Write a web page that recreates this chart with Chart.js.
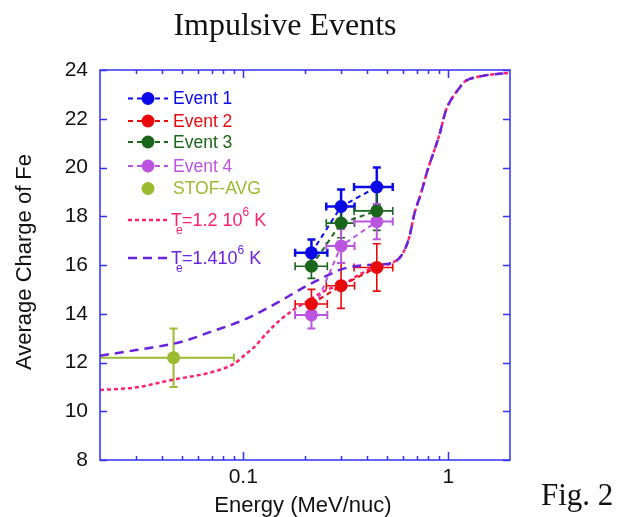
<!DOCTYPE html>
<html><head><meta charset="utf-8">
<script src="https://cdn.jsdelivr.net/npm/chart.js@4/dist/chart.umd.min.js"></script>
<style>html,body{margin:0;padding:0;background:#fff}canvas{display:block}</style>
</head><body>
<canvas id="c" width="624" height="517"></canvas>
<script>
// ---- data ----
const eventEnergy     = [0.215, 0.30, 0.448];
const eventEnergyLow  = [0.179, 0.254, 0.347];
const eventEnergyHigh = [0.257, 0.349, 0.536];

const event1Charge = [16.5, 18.4, 19.2];
const event1Err    = [0.55, 0.7, 0.8];
const event2Charge = [14.4, 15.15, 15.9];
const event2Err    = [0.6, 0.93, 0.97];
const event3Charge = [15.95, 17.72, 18.22];
const event3Err    = [0.5, 0.6, 0.8];
const event4Charge = [13.95, 16.78, 17.78];
const event4Err    = [0.55, 0.7, 0.72];

const stofEnergy     = [0.0457];
const stofEnergyLow  = [0.015];
const stofEnergyHigh = [0.090];
const stofCharge     = [12.2];
const stofErr        = [1.2];

const te12Energy = [0.02, 0.03, 0.0457, 0.07, 0.09, 0.104, 0.112, 0.13, 0.151, 0.175, 0.203, 0.254, 0.318, 0.37, 0.445, 0.527, 0.6, 0.646, 0.684, 0.736, 0.793, 0.839, 0.904, 0.975, 1.03, 1.13, 1.2, 1.415, 2.0];
const te12Charge = [10.87, 10.98, 11.3, 11.6, 11.95, 12.38, 12.6, 13.2, 13.74, 14.15, 14.49, 14.97, 15.28, 15.62, 15.93, 16.07, 16.48, 17.16, 18.12, 18.94, 19.9, 20.51, 21.33, 22.36, 22.77, 23.25, 23.52, 23.73, 23.89];
const te14Energy = [0.02, 0.03, 0.05, 0.07, 0.1, 0.15, 0.2, 0.25, 0.3, 0.4, 0.527, 0.6, 0.646, 0.684, 0.736, 0.793, 0.839, 0.904, 0.975, 1.03, 1.13, 1.2, 1.415, 2.0];
const te14Charge = [12.28, 12.51, 12.85, 13.27, 13.74, 14.5, 15.11, 15.52, 15.82, 16.0, 16.07, 16.48, 17.16, 18.12, 18.94, 19.9, 20.51, 21.33, 22.36, 22.77, 23.25, 23.52, 23.73, 23.89];

const xTickValues = [0.1, 1];
const xTickLabels = ['0.1', '1'];
const yTickStep = 2;

const seriesLabels = ['Event 1', 'Event 2', 'Event 3', 'Event 4', 'STOF-AVG'];
const titleText = 'Impulsive Events';
const figText = 'Fig. 2';
const xTitle = 'Energy (MeV/nuc)';
const yTitle = 'Average Charge of Fe';

// ---- styling ----
const C = {
  e1: '#0a0ae6', e2: '#e80a0a', e3: '#1a661a', e4: '#bb55e0', stof: '#9bbb30',
  te12: '#ff1f6e', te14: '#6a22dd', axis: '#3232f0'
};
const SANS = "'Liberation Sans', Arial, Helvetica, sans-serif";
const SERIF = "'Liberation Serif', 'Times New Roman', serif";

function pts(xs, ys){ return xs.map((v,i)=>({x:v, y:ys[i]})); }
function eventDs(label, ys, err, color, order, w){
  return { label, data: pts(eventEnergy, ys), errY: err, xLow: eventEnergyLow, xHigh: eventEnergyHigh,
    errWidth: w, showLine: true, borderColor: color, backgroundColor: color, borderWidth: 2,
    borderDash: [5,4], pointRadius: 6.5, pointBackgroundColor: color, pointBorderWidth: 0,
    pointHoverRadius: 6.5, order, legendKind: 'event' };
}

const datasets = [
  eventDs(seriesLabels[0], event1Charge, event1Err, C.e1, 1, 2.5),
  eventDs(seriesLabels[1], event2Charge, event2Err, C.e2, 2, 1.6),
  eventDs(seriesLabels[2], event3Charge, event3Err, C.e3, 3, 1.6),
  eventDs(seriesLabels[3], event4Charge, event4Err, C.e4, 4, 2),
  { label: seriesLabels[4], data: pts(stofEnergy, stofCharge), errY: stofErr, xLow: stofEnergyLow, xHigh: stofEnergyHigh,
    errWidth: 2, showLine: false, borderColor: C.stof, backgroundColor: C.stof, pointRadius: 6.5,
    pointBackgroundColor: C.stof, pointBorderWidth: 0, order: 0, legendKind: 'point' },
  { label: 'Te=1.2 10^6 K', data: pts(te12Energy, te12Charge), showLine: true, borderColor: C.te12,
    borderWidth: 2.5, borderDash: [4,3], pointRadius: 0, cubicInterpolationMode: 'monotone', order: 11,
    legendKind: 'model', legendParts: [['T',''],['e','sub'],['=1.2 10',''],['6','sup'],[' K','']] },
  { label: 'Te=1.410^6 K', data: pts(te14Energy, te14Charge), showLine: true, borderColor: C.te14,
    borderWidth: 2.5, borderDash: [9,6], pointRadius: 0, cubicInterpolationMode: 'monotone', order: 10,
    legendKind: 'model', legendParts: [['T',''],['e','sub'],['=1.410',''],['6','sup'],[' K','']] }
];

const errorBarPlugin = {
  id: 'errorBars',
  beforeDatasetsDraw(chart){
    const {ctx, chartArea:a, scales:{x, y}} = chart;
    ctx.save();
    ctx.beginPath(); ctx.rect(a.left, a.top, a.right-a.left, a.bottom-a.top); ctx.clip();
    chart.data.datasets.forEach(ds => {
      if (!ds.errY) return;
      ctx.strokeStyle = ds.borderColor; ctx.lineWidth = ds.errWidth; ctx.setLineDash([]);
      ds.data.forEach((p, j) => {
        const px = x.getPixelForValue(p.x), py = y.getPixelForValue(p.y);
        const y1 = y.getPixelForValue(p.y + ds.errY[j]), y2 = y.getPixelForValue(p.y - ds.errY[j]);
        const x1 = x.getPixelForValue(ds.xLow[j]), x2 = x.getPixelForValue(ds.xHigh[j]);
        const c = 4;
        ctx.beginPath();
        ctx.moveTo(px, y1); ctx.lineTo(px, y2);
        ctx.moveTo(px-c, y1); ctx.lineTo(px+c, y1);
        ctx.moveTo(px-c, y2); ctx.lineTo(px+c, y2);
        ctx.moveTo(x1, py); ctx.lineTo(x2, py);
        ctx.moveTo(x1, py-c); ctx.lineTo(x1, py+c);
        ctx.moveTo(x2, py-c); ctx.lineTo(x2, py+c);
        ctx.stroke();
      });
    });
    ctx.restore();
  }
};

const framePlugin = {
  id: 'frame',
  afterDraw(chart){
    const {ctx, chartArea:a, scales:{x, y}} = chart;
    ctx.save();
    ctx.strokeStyle = C.axis; ctx.lineWidth = 1.5; ctx.setLineDash([]);
    ctx.strokeRect(a.left, a.top, a.right-a.left, a.bottom-a.top);
    ctx.beginPath();
    // y ticks (inward, both sides)
    for (let v = y.min; v <= y.max + 1e-9; v += yTickStep) {
      const py = Math.round(y.getPixelForValue(v)) + 0.5;
      ctx.moveTo(a.left, py); ctx.lineTo(a.left + 7, py);
      ctx.moveTo(a.right, py); ctx.lineTo(a.right - 7, py);
    }
    // x ticks (log, inward, top and bottom)
    const lo = Math.floor(Math.log10(x.min)), hi = Math.ceil(Math.log10(x.max));
    for (let d = lo; d <= hi; d++) {
      for (let m = 1; m <= 9; m++) {
        const v = m * Math.pow(10, d);
        if (v <= x.min * 1.001 || v >= x.max * 0.999) continue;
        const px = Math.round(x.getPixelForValue(v)) + 0.5;
        const len = m === 1 ? 8 : 4;
        ctx.moveTo(px, a.bottom); ctx.lineTo(px, a.bottom - len);
        ctx.moveTo(px, a.top); ctx.lineTo(px, a.top + len);
      }
    }
    ctx.stroke();

    // titles
    ctx.fillStyle = '#111';
    ctx.textAlign = 'center'; ctx.textBaseline = 'alphabetic';
    ctx.font = '32px ' + SERIF;
    ctx.fillText(titleText, 285, 35);
    ctx.textAlign = 'left';
    ctx.font = '31px ' + SERIF;
    ctx.fillText(figText, 541, 505);
    ctx.textAlign = 'center';
    ctx.font = '22px ' + SANS;
    ctx.fillText(xTitle, (a.left + a.right) / 2 - 2, 512);
    ctx.save();
    ctx.translate(31, (a.top + a.bottom) / 2 - 3);
    ctx.rotate(-Math.PI / 2);
    ctx.fillText(yTitle, 0, 0);
    ctx.restore();

    // legend
    const rowsY = [98.5, 121, 142, 166, 188.5, 220, 258];
    const order = [0,1,2,3,4,5,6];
    const lx0 = 128, lx1 = 168, mx = 148, tx = 173;
    order.forEach((di, r) => {
      const ds = chart.data.datasets[di];
      const yy = rowsY[r];
      ctx.save();
      if (ds.legendKind !== 'point') {
        ctx.strokeStyle = ds.borderColor; ctx.lineWidth = ds.borderWidth;
        ctx.setLineDash(ds.borderDash);
        ctx.beginPath(); ctx.moveTo(lx0, yy); ctx.lineTo(lx1, yy); ctx.stroke();
      }
      ctx.setLineDash([]);
      if (ds.legendKind !== 'model') {
        ctx.fillStyle = ds.pointBackgroundColor;
        ctx.beginPath(); ctx.arc(mx, yy, 6.5, 0, Math.PI*2); ctx.fill();
      }
      ctx.fillStyle = ds.borderColor;
      ctx.textAlign = 'left'; ctx.textBaseline = 'middle';
      if (ds.legendKind === 'model') {
        let cx = tx - 2;
        ds.legendParts.forEach(([t, kind]) => {
          if (kind === 'sub') {
            ctx.font = '12px ' + SANS;
            ctx.fillText(t, cx - 6, yy + 11);
          } else if (kind === 'sup') {
            ctx.font = '12px ' + SANS;
            ctx.fillText(t, cx, yy - 7);
            cx += ctx.measureText(t).width;
          } else {
            ctx.font = '18px ' + SANS;
            ctx.fillText(t, cx, yy + 1);
            cx += ctx.measureText(t).width;
          }
        });
      } else {
        ctx.font = '17.5px ' + SANS;
        ctx.fillText(ds.label, tx, yy + 1);
      }
      ctx.restore();
    });
    ctx.restore();
  }
};

new Chart(document.getElementById('c'), {
  type: 'scatter',
  data: { datasets },
  options: {
    responsive: false,
    animation: false,
    layout: { padding: { left: 0, right: 114, top: 70, bottom: 0 } },
    plugins: { legend: { display: false }, tooltip: { enabled: false }, title: { display: false } },
    scales: {
      x: {
        type: 'logarithmic', min: 0.02, max: 2, position: 'bottom',
        grid: { display: false, drawTicks: false }, border: { display: false },
        afterBuildTicks: s => { s.ticks = xTickValues.map(v => ({ value: v })); },
        afterFit: s => { s.height = 57; },
        ticks: { autoSkip: false, maxRotation: 0, padding: 5, color: '#111',
          font: { family: SANS, size: 21 }, callback: (v, i) => xTickLabels[i] }
      },
      y: {
        type: 'linear', min: 8, max: 24, position: 'left',
        grid: { display: false, drawTicks: false }, border: { display: false },
        afterFit: s => { s.width = 100; },
        ticks: { stepSize: yTickStep, padding: 12, color: '#111', font: { family: SANS, size: 21 } }
      }
    }
  },
  plugins: [errorBarPlugin, framePlugin]
});
</script>
</body></html>
